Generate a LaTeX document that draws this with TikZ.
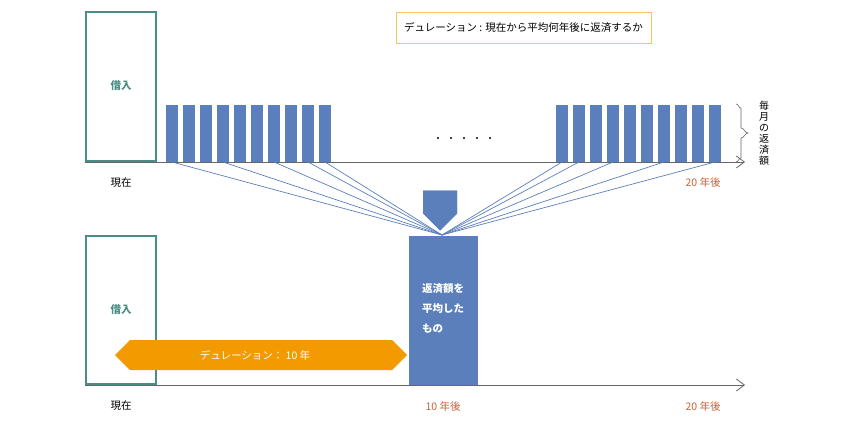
\documentclass[tikz,border=0pt]{standalone}
\usepackage{fontspec}
\setmainfont{Noto Sans CJK JP}
\usetikzlibrary{arrows.meta,shapes.arrows,decorations.pathreplacing}
\definecolor{bblue}{HTML}{5B7FBA}
\definecolor{teal}{HTML}{4A8C86}
\definecolor{org}{HTML}{F29A00}
\definecolor{rust}{HTML}{C8623A}
\begin{document}
\begin{tikzpicture}[x=1pt,y=-1pt,
  bar/.style={fill=bblue,draw=none},
  conn/.style={bblue,line width=0.7pt},
  axis/.style={draw=gray!80!black,line width=0.8pt,-{Straight Barb[length=8pt,width=12pt]}},
  lbl/.style={font=\fontsize{10.5}{12}\selectfont}]
\useasboundingbox (0,0) rectangle (851,428);
% top
\draw[teal,line width=2pt] (86,12) rectangle (156,161);
\node[lbl,text=teal,font=\fontsize{10.5}{12}\selectfont\bfseries] (b1) at (121,86) {借入};
\draw[axis] (85,162) -- (745,162);
\node[lbl] (n1) at (121,183) {現在};
\node[lbl,text=rust] (t20a) at (703,183) {20 年後};
\node[draw=org!60,line width=0.6pt,inner xsep=8pt,minimum height=31pt,lbl] (dur) at (523.5,27.5) {デュレーション : 現在から平均何年後に返済するか};
\coordinate (c) at (442,235);
\foreach \i in {0,...,9}{
  \fill[bar] (166+17*\i,105) rectangle (178+17*\i,162);
  \fill[bar] (556+17*\i,105) rectangle (568+17*\i,162);
  \coordinate (L\i) at (172+17*\i,162);
  \coordinate (R\i) at (562+17*\i,162);
}
\foreach \i in {0,3,6,8,9}{\draw[conn] (L\i) -- (c);}
\foreach \i in {0,1,3,6,9}{\draw[conn] (R\i) -- (c);}
\foreach \i in {0,...,4}{\fill (438+13*\i,138) circle (1.2pt);}
\draw[gray!80!black,line width=0.6pt] (736,104) to[out=0,in=180] (741,108) -- (741,128) to[out=0,in=180] (748,133) to[out=180,in=0] (741,138) -- (741,158) to[out=180,in=0] (736,162);
\node[lbl,align=center,inner sep=0pt,font=\fontsize{10}{11}\selectfont] (mon) at (764,133) {毎\\月\\の\\返\\済\\額};
% down arrow
\node[single arrow,fill=bblue,draw=none,shape border rotate=270,minimum width=34pt,single arrow head extend=0pt,single arrow tip angle=90,minimum height=40pt,inner sep=0pt] (da) at (440,202) {};
\node[single arrow,fill=bblue,draw=none,shape border rotate=270,minimum width=34pt,single arrow head extend=0pt,minimum height=40pt,inner sep=0pt] at (440,202) {};
% bottom
\draw[teal,line width=2pt] (86,236) rectangle (156,384);
\node[text=teal,font=\fontsize{10.5}{12}\selectfont\bfseries] (b2) at (121,310) {借入};
\fill[bblue] (409,236) rectangle (478,385);
\node[text=white,font=\fontsize{10.5}{20}\selectfont\bfseries,align=left] (avg) at (443,308) {返済額を\\平均した\\もの};
\draw[axis] (85,385) -- (745,385);
\node[lbl] (n2) at (121,406) {現在};
\node[lbl,text=rust] (t10) at (443,406) {10 年後};
\node[lbl,text=rust] (t20b) at (703,406) {20 年後};
\node[double arrow,fill=org,draw=none,minimum width=30pt,double arrow head extend=0pt,minimum height=292pt,inner sep=0pt] (oa) at (261,355) {};
\node[text=white,font=\fontsize{10.5}{12}\selectfont] at (255,355) {デュレーション：\ 10 年};
\end{tikzpicture}
\end{document}
